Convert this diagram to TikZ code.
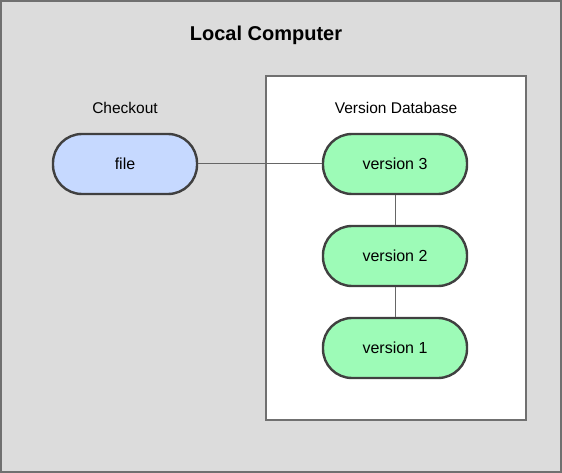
\documentclass[tikz,border=0pt]{standalone}
\usepackage{fontspec}
\setmainfont{Liberation Sans}
\usepackage{tikz}
\definecolor{paneGray}{HTML}{DCDCDC}
\definecolor{edgeGray}{HTML}{707070}
\definecolor{pillEdge}{HTML}{404040}
\definecolor{fileBlue}{HTML}{C6D9FF}
\definecolor{versionGreen}{HTML}{9DFBB7}

\begin{document}
\begin{tikzpicture}[x=1pt,y=-1pt,
  pill/.style={draw=pillEdge, line width=2.4pt, rounded corners=29pt, minimum width=144pt, minimum height=60pt, inner sep=0pt, font=\fontsize{16}{18}\selectfont},
  link/.style={draw=pillEdge!80, line width=1pt}]
\useasboundingbox (0,0) rectangle (562,473);
\draw[edgeGray, line width=1.5pt, fill=paneGray](1,1) rectangle (561,472);
\draw[edgeGray, line width=1.5pt, fill=white](266,76) rectangle (526,420);
\node (Title) at (266,35) {\fontsize{20}{23}\selectfont\bfseries Local Computer};
\node (Checkout) at (125,108) {\fontsize{15.5}{18}\selectfont Checkout};
\node (Database) at (396,108) {\fontsize{15.5}{18}\selectfont Version Database};
\node[pill, fill=fileBlue] (File) at (125,164) {file};
\node[pill, fill=versionGreen] (V3) at (395,164) {version 3};
\node[pill, fill=versionGreen] (V2) at (395,256) {version 2};
\node[pill, fill=versionGreen] (V1) at (395,348) {version 1};
\draw[link] (File) -- (V3);
\draw[link] (V3) -- (V2);
\draw[link] (V2) -- (V1);
\end{tikzpicture}
\end{document}
